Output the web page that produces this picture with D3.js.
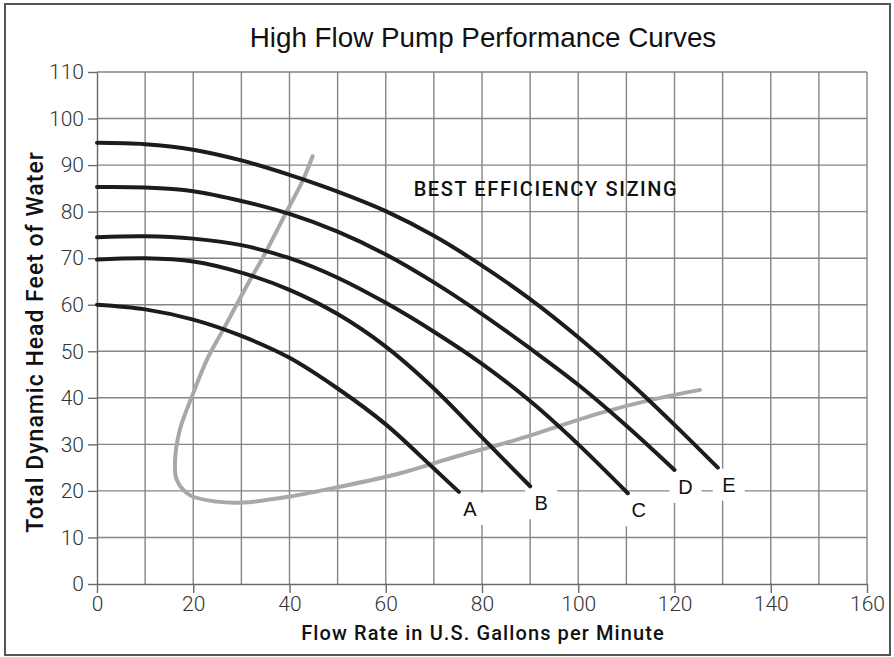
<!DOCTYPE html>
<html lang="en">
<head>
  <meta charset="UTF-8" />
  <title>High Flow Pump Performance Curves</title>
  <style>
    body {
      margin: 0;
      background-color: #fff;
    }

    svg {
      display: block;
    }

    .grid line {
      stroke: #858585;
      stroke-width: 1.4px;
    }

    .axis text {
      font-family: Roboto, sans-serif;
      font-weight: 300;
      font-size: 21px;
      fill: #333;
    }

    .axis line, .axis path {
      stroke: #6a6a6a;
      stroke-width: 1.4px;
    }
  </style>
</head>
<body>
  <svg width="894" height="657"></svg>

  <script src="https://d3js.org/d3.v7.min.js"></script>
  <script>
    // pump model labels
    const pumps = ["A", "B", "C", "D", "E"];

    // flow (gpm) and head (ft)
    const flowA = [0, 10, 20, 30, 40, 50, 60, 70, 75.2];
    const headA = [60, 59, 56.8, 53.3, 48.6, 42, 34.3, 24.8, 19.8];

    const flowB = [0, 10, 20, 30, 40, 50, 60, 70, 80, 90];
    const headB = [69.7, 70, 69.3, 66.9, 63.2, 58, 51, 42, 31.5, 21];

    const flowC = [0, 10, 20, 30, 40, 50, 60, 70, 80, 90, 100, 110.3];
    const headC = [74.5, 74.7, 74.2, 72.8, 70, 65.8, 60.4, 54.2, 47.3, 39.3, 30, 19.5];

    const flowD = [0, 10, 20, 30, 40, 50, 60, 70, 80, 90, 100, 110, 120];
    const headD = [85.3, 85.2, 84.4, 82.3, 79.5, 75.7, 70.8, 64.8, 58, 50.6, 42.8, 34, 24.5];

    const flowE = [0, 10, 20, 30, 40, 50, 60, 70, 80, 90, 100, 110, 120, 129];
    const headE = [94.8, 94.5, 93.3, 91, 87.9, 84.3, 80.1, 74.8, 68.4, 61.2, 53, 44, 34.2, 25];

    // best efficiency sizing boundary (grey loop)
    const effFlow = [44.8, 42.8, 39.4, 34.5, 31.8, 26.2, 22.8, 20, 17.2, 16.2, 16.6, 19.3, 24.9, 30.4, 40.1, 50.5, 63, 75, 86.9, 104.5, 114.9, 125.3];
    const effHead = [91.9, 86.8, 80, 70.2, 65.3, 54.6, 48.1, 41, 33.1, 26, 22.3, 19.1, 17.7, 17.5, 18.8, 20.9, 23.8, 27.5, 30.9, 36.7, 39.5, 41.7];

    const xTicks = [0, 20, 40, 60, 80, 100, 120, 140, 160];
    const yTicks = [0, 10, 20, 30, 40, 50, 60, 70, 80, 90, 100, 110];

    const flows = [flowA, flowB, flowC, flowD, flowE];
    const heads = [headA, headB, headC, headD, headE];

    const svg = d3.select("svg");

    const x = d3.scaleLinear().domain([0, 160]).range([97, 867]);
    const y = d3.scaleLinear().domain([0, 110]).range([584, 72]);

    // outer frame
    svg.append("rect")
      .attr("x", 5).attr("y", 4)
      .attr("width", 885).attr("height", 651)
      .attr("fill", "none")
      .attr("stroke", "#555")
      .attr("stroke-width", 2);

    // title
    svg.append("text")
      .attr("x", 483).attr("y", 47)
      .attr("text-anchor", "middle")
      .style("font-family", "'Liberation Sans', Arial, sans-serif")
      .style("font-size", "27.8px")
      .style("fill", "#111")
      .text("High Flow Pump Performance Curves");

    // grid
    const grid = svg.append("g").attr("class", "grid");
    grid.selectAll(".v")
      .data(d3.range(10, 161, 10))
      .join("line")
      .attr("x1", d => x(d)).attr("x2", d => x(d))
      .attr("y1", y(0)).attr("y2", y(110));
    grid.selectAll(".h")
      .data(d3.range(10, 111, 10))
      .join("line")
      .attr("x1", x(0)).attr("x2", x(160))
      .attr("y1", d => y(d)).attr("y2", d => y(d));

    // axes
    svg.append("g")
      .attr("class", "axis")
      .attr("transform", `translate(${x(0)},0)`)
      .call(d3.axisLeft(y).tickValues(yTicks).tickSizeInner(9).tickSizeOuter(0).tickPadding(4));

    svg.append("g")
      .attr("class", "axis")
      .attr("transform", `translate(0,${y(0)})`)
      .call(d3.axisBottom(x).tickValues(xTicks).tickSizeInner(9).tickSizeOuter(0).tickPadding(3));

    // axis titles
    svg.append("text")
      .attr("transform", `translate(43,${(y(0) + y(110)) / 2 + 14}) rotate(-90)`)
      .attr("text-anchor", "middle")
      .style("font-family", "Roboto, sans-serif")
      .style("font-weight", 500)
      .style("font-size", "23px")
      .style("letter-spacing", "1px")
      .style("fill", "#111")
      .text("Total Dynamic Head Feet of Water");

    svg.append("text")
      .attr("x", 483).attr("y", 640)
      .attr("text-anchor", "middle")
      .style("font-family", "Roboto, sans-serif")
      .style("font-weight", 500)
      .style("font-size", "20px")
      .style("letter-spacing", "1.1px")
      .style("fill", "#111")
      .text("Flow Rate in U.S. Gallons per Minute");

    // curve label boxes (white patches over the grid)
    const ends = pumps.map((p, i) => ({
      name: p,
      x: x(flows[i][flows[i].length - 1]) + 11,
      y: y(heads[i][heads[i].length - 1]) + 17
    }));

    svg.append("g").selectAll("rect")
      .data(ends)
      .join("rect")
      .attr("x", d => d.x - 16).attr("y", d => d.y - 16)
      .attr("width", 32).attr("height", 32)
      .attr("fill", "#fff");

    // best efficiency loop
    const effLine = d3.line()
      .x(d => x(d[0])).y(d => y(d[1]))
      .curve(d3.curveCatmullRom.alpha(0.5));

    svg.append("path")
      .datum(d3.zip(effFlow, effHead))
      .attr("d", effLine)
      .attr("fill", "none")
      .attr("stroke", "#a8a8aa")
      .attr("stroke-width", 4)
      .attr("stroke-linecap", "round");

    // pump curves
    const pumpLine = d3.line()
      .x(d => x(d[0])).y(d => y(d[1]))
      .curve(d3.curveCatmullRom.alpha(0.5));

    svg.append("g").selectAll("path")
      .data(pumps.map((p, i) => d3.zip(flows[i], heads[i])))
      .join("path")
      .attr("d", pumpLine)
      .attr("fill", "none")
      .attr("stroke", "#1c1c1c")
      .attr("stroke-width", 4)
      .attr("stroke-linecap", "round");

    svg.append("g").selectAll("text")
      .data(ends)
      .join("text")
      .attr("x", d => d.x).attr("y", d => d.y + 7)
      .attr("text-anchor", "middle")
      .style("font-family", "'Liberation Sans', Arial, sans-serif")
      .style("font-size", "20px")
      .style("fill", "#111")
      .text(d => d.name);

    svg.append("text")
      .attr("x", 546).attr("y", 196)
      .attr("text-anchor", "middle")
      .style("font-family", "Roboto, sans-serif")
      .style("font-weight", 500)
      .style("font-size", "20px")
      .style("letter-spacing", "1.6px")
      .style("fill", "#111")
      .text("BEST EFFICIENCY SIZING");
  </script>
</body>
</html>
